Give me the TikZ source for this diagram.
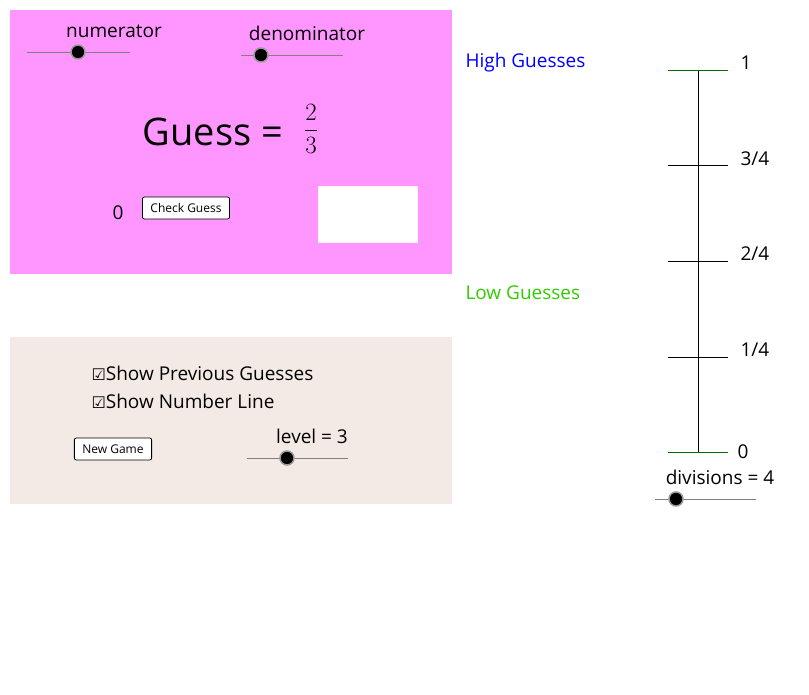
\documentclass[tikz,border=0pt]{standalone}
\usepackage{fontspec}
\setmainfont{Open Sans}
\newfontfamily\symfont{DejaVu Sans}
\usetikzlibrary{positioning}
\definecolor{pinkbg}{RGB}{255,149,255}
\definecolor{beigebg}{RGB}{243,234,229}
\definecolor{highblue}{RGB}{0,0,255}
\definecolor{lowgreen}{RGB}{51,204,0}
\definecolor{tickgreen}{RGB}{0,110,0}
\tikzset{
  knob/.style={circle, fill=black, draw=gray!80, line width=1.5pt, inner sep=0pt, minimum size=14pt},
  track/.style={gray, line width=0.6pt},
  button/.style={draw=black, line width=0.8pt, rounded corners=2pt, fill=white, font=\fontsize{12}{12}\selectfont, inner xsep=8pt, inner ysep=3pt, minimum height=22pt},
  label/.style={font=\fontsize{19}{19}\selectfont},
  tick/.style={line width=0.8pt},
}
\begin{document}
\begin{tikzpicture}[x=1pt,y=-1pt]
\useasboundingbox (0,0) rectangle (809,694);

% panels
\fill [pinkbg] (10,10) rectangle (452,274);
\fill [beigebg] (10,337) rectangle (452,504);

% sliders on the pink panel
\draw [track] (27,52) -- (130,52);
\node [knob] (numknob) at (78,52) {};
\node [label] (numerator) at (114,31) {numerator};
\draw [track] (241,55) -- (343,55);
\node [knob] (denknob) at (261,55) {};
\node [label] (denominator) at (307,33) {denominator};

% the guess
\node [font=\fontsize{38}{38}\selectfont] (guess) at (213,132) {Guess =};
\node [font=\fontsize{32}{32}\selectfont] (frac) at (311,129) {$\displaystyle\frac{2}{3}$};

\node [label] (score) at (118,213) {0};
\node [button] (check) at (186,208) {Check Guess};
\node [fill=white, draw=white!85!pink, minimum width=99pt, minimum height=56pt, inner sep=0pt] (answer) at (368,214) {};

% lower panel
\node [label, anchor=west] (prev) at (88,373) {{\symfont\fontsize{16}{16}\selectfont ☑}Show Previous Guesses};
\node [label, anchor=west] (line) at (88,401) {{\symfont\fontsize{16}{16}\selectfont ☑}Show Number Line};
\node [button] (newgame) at (113,449) {New Game};
\node [label] (level) at (312,436) {level = 3};
\draw [track] (247,458) -- (348,458);
\node [knob] (levelknob) at (287,458) {};

% guesses
\node [label, text=highblue, anchor=west] (high) at (462,63) {High Guesses};
\node [label, text=lowgreen, anchor=west] (low) at (462,293) {Low Guesses};

% number line
\coordinate (top) at (698,70);
\coordinate (bottom) at (698,452);
\draw [tick] (top) -- (bottom);
\draw [tick, tickgreen] (668,70) -- (728,70);
\draw [tick, tickgreen] (668,452) -- (728,452);
\foreach \y in {165,261,357}
  \draw [tick] (668,\y) -- (728,\y);
\node [label, anchor=west] (one) at (737,63) {1};
\node [label, anchor=west] (three) at (737,159) {3/4};
\node [label, anchor=west] (two) at (737,254) {2/4};
\node [label, anchor=west] (quarter) at (737,350) {1/4};
\node [label, anchor=west] (zero) at (734,452) {0};
\node [label] (divisions) at (720,477) {divisions = 4};
\draw [track] (655,499) -- (756,499);
\node [knob] (divknob) at (676,499) {};
\end{tikzpicture}
\end{document}
